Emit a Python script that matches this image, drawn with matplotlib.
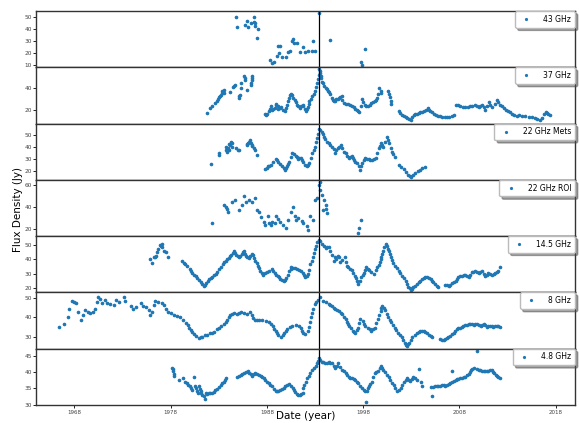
import matplotlib
matplotlib.use('Agg')
import matplotlib.pyplot as plt
import numpy as np

# flux density light curves, (year, Jy) pairs
f43 = [(1984.75, 50.0), (1984.85, 41.4), (1985.7, 43.5), (1985.9, 46.5), (1986.05, 41.8), (1986.35, 45.0),
       (1986.65, 50.2), (1986.7, 46.2), (1986.75, 45.0), (1986.8, 42.4), (1987.1, 40.0), (1986.95, 32.6),
       (1988.35, 14.0), (1988.5, 11.6), (1988.7, 13.0), (1989.0, 17.3), (1989.1, 25.7), (1989.25, 20.0),
       (1989.4, 26.3), (1989.6, 16.8), (1989.95, 16.5), (1990.2, 20.6), (1990.4, 21.6), (1990.6, 29.8),
       (1990.75, 31.6), (1990.85, 28.4), (1991.1, 28.2), (1991.4, 21.3), (1991.75, 25.0), (1992.0, 20.8),
       (1992.25, 21.8), (1992.7, 21.5), (1992.8, 29.8), (1992.95, 21.9), (1993.4, 53.3), (1994.6, 31.1),
       (1997.8, 12.5), (1997.9, 10.4), (1998.2, 23.1)]

f37 = [(1981.8, 17.5), (1982.05, 22.0), (1982.25, 23.6), (1982.6, 26.5), (1982.85, 28.3), (1982.95, 30.5),
       (1983.0, 31.8), (1983.1, 33.0), (1983.2, 34.2), (1983.3, 35.5), (1983.35, 37.3), (1983.5, 36.0),
       (1983.5, 38.0), (1984.2, 36.5), (1984.5, 41.0), (1984.6, 42.0), (1984.7, 43.0), (1985.1, 31.2),
       (1985.15, 33.0), (1985.2, 34.0), (1985.35, 40.5), (1985.3, 44.8), (1985.65, 50.8), (1985.7, 49.0),
       (1985.7, 47.9), (1985.95, 38.7), (1986.3, 43.3), (1986.35, 45.0), (1986.4, 47.9), (1986.4, 49.5),
       (1986.4, 50.9),
       (1987.85, 16.7), (1987.95, 15.8), (1988.0, 17.0), (1988.2, 19.1), (1988.3, 21.0), (1988.4, 23.6),
       (1988.5, 20.6), (1988.65, 21.0), (1988.8, 22.1), (1988.9, 24.5), (1988.95, 26.1), (1989.1, 24.0),
       (1989.2, 21.2), (1989.35, 22.0), (1989.5, 22.7), (1989.7, 20.0), (1989.9, 19.1), (1990.0, 22.5),
       (1990.1, 25.2), (1990.2, 28.5), (1990.3, 31.2), (1990.4, 33.5), (1990.45, 35.1), (1990.55, 34.0),
       (1990.6, 33.6), (1990.75, 31.5), (1990.9, 29.7), (1991.0, 27.5), (1991.1, 25.2), (1991.25, 23.5),
       (1991.4, 22.1), (1991.55, 24.0), (1991.7, 25.2), (1991.8, 23.6), (1991.95, 21.5), (1992.1, 19.7),
       (1992.2, 21.0), (1992.3, 22.7), (1992.35, 25.5), (1992.4, 28.2), (1992.55, 30.5), (1992.7, 32.7),
       (1992.85, 35.0), (1993.0, 37.3), (1993.1, 41.0), (1993.2, 44.8), (1993.3, 48.5), (1993.4, 52.4),
       (1993.45, 57.0), (1993.5, 55.5), (1993.55, 54.0), (1993.6, 51.5), (1993.65, 49.4), (1993.75, 46.0),
       (1993.8, 44.8), (1993.95, 42.0), (1994.1, 40.3), (1994.2, 39.0), (1994.35, 37.9), (1994.45, 36.5),
       (1994.6, 34.8), (1994.75, 31.5), (1994.85, 29.5), (1994.95, 28.2), (1995.05, 28.5), (1995.2, 30.6),
       (1995.35, 30.5), (1995.5, 31.2), (1995.6, 32.0), (1995.75, 32.7), (1995.85, 29.0), (1996.0, 26.7),
       (1996.2, 26.0), (1996.4, 25.5), (1996.67, 25.2), (1996.85, 23.8), (1997.0, 22.7), (1997.2, 21.5),
       (1997.36, 20.6), (1997.5, 19.2), (1997.6, 18.5), (1997.75, 24.0), (1997.88, 30.6), (1998.0, 27.5),
       (1998.16, 25.2), (1998.3, 24.0), (1998.5, 23.6), (1998.7, 25.0), (1998.85, 26.7), (1999.0, 27.5),
       (1999.2, 28.2), (1999.35, 29.5), (1999.44, 31.2), (1999.55, 35.0), (1999.68, 40.3), (1999.8, 37.5),
       (1999.89, 35.8), (2000.58, 37.9), (2000.65, 35.0), (2000.75, 31.8), (2000.85, 28.5), (2000.92, 25.8),
       (2001.69, 19.1), (2001.8, 17.5), (2002.0, 15.5), (2002.2, 14.5), (2002.4, 13.5), (2002.55, 13.0),
       (2002.8, 12.0), (2003.0, 11.5), (2003.1, 13.5), (2003.24, 15.5), (2003.4, 16.2), (2003.59, 16.7),
       (2003.75, 17.8), (2003.93, 18.5), (2004.1, 18.8), (2004.28, 19.1), (2004.5, 20.5), (2004.73, 22.1),
       (2004.85, 20.5), (2004.97, 19.1), (2005.15, 18.0), (2005.32, 16.7), (2005.55, 16.0), (2005.77, 15.2),
       (2006.0, 14.5), (2006.18, 13.6), (2006.45, 13.5), (2006.7, 13.6), (2006.95, 14.2), (2007.2, 14.8),
       (2007.46, 16.0), (2007.67, 25.2), (2007.85, 24.5), (2008.08, 23.6), (2008.35, 23.0), (2008.6, 22.7),
       (2008.85, 23.0), (2009.1, 23.6), (2009.35, 24.0), (2009.57, 24.5), (2009.8, 23.8), (2010.0, 23.0),
       (2010.15, 24.0), (2010.33, 25.2), (2010.5, 23.0), (2010.68, 20.6), (2010.85, 24.0), (2011.02, 27.6),
       (2011.2, 25.0), (2011.37, 22.7), (2011.65, 26.0), (2011.9, 29.7), (2012.05, 27.5), (2012.23, 25.2),
       (2012.4, 23.5), (2012.58, 22.1), (2012.8, 20.5), (2013.03, 19.1), (2013.25, 18.0), (2013.44, 16.7),
       (2013.7, 16.0), (2013.96, 15.2), (2014.2, 15.5), (2014.5, 14.8), (2014.8, 14.5), (2015.2, 14.2),
       (2015.5, 13.5), (2015.8, 13.0), (2016.1, 12.0), (2016.4, 11.3), (2016.6, 13.0), (2016.8, 17.0),
       (2016.95, 18.7), (2017.1, 17.5), (2017.25, 16.5), (2017.4, 15.7)]

f22m = [(1982.2, 26.0), (1983.0, 33.6), (1983.0, 35.5), (1983.7, 40.4), (1983.8, 38.0), (1983.9, 36.3),
        (1984.0, 39.1), (1984.05, 37.5), (1984.1, 42.6), (1984.2, 41.5), (1984.3, 44.5), (1984.35, 43.0),
        (1984.4, 40.4), (1984.74, 39.1), (1985.0, 38.0), (1985.1, 37.2), (1985.9, 42.0), (1985.95, 42.6),
        (1986.0, 43.8), (1986.1, 44.5), (1986.2, 45.5), (1986.3, 43.2), (1986.4, 42.0), (1986.5, 41.0),
        (1986.7, 39.0), (1986.8, 37.7), (1987.0, 33.6),
        (1987.85, 21.9), (1988.0, 22.5), (1988.1, 24.0), (1988.25, 24.5), (1988.4, 25.4), (1988.65, 28.0),
        (1988.9, 30.0), (1989.0, 29.0), (1989.1, 28.1), (1989.35, 26.0), (1989.6, 24.0), (1989.75, 22.5),
        (1989.9, 21.3), (1990.0, 22.5), (1990.1, 24.0), (1990.2, 26.0), (1990.3, 28.1), (1990.45, 32.0),
        (1990.6, 35.5), (1990.8, 34.0), (1991.0, 32.8), (1991.1, 31.5), (1991.2, 30.0), (1991.35, 31.0),
        (1991.5, 30.9), (1991.65, 29.0), (1991.8, 27.3), (1992.0, 25.5), (1992.2, 24.0), (1992.3, 25.0),
        (1992.4, 26.8), (1992.55, 31.0), (1992.7, 35.0), (1992.85, 38.0), (1993.0, 40.4), (1993.1, 44.0),
        (1993.2, 47.3), (1993.3, 50.5), (1993.45, 54.6), (1993.55, 53.8), (1993.7, 52.7), (1993.8, 50.5),
        (1993.9, 48.6), (1994.05, 46.5), (1994.25, 44.5), (1994.4, 43.0), (1994.6, 41.8), (1994.8, 40.0),
        (1994.95, 38.3), (1995.1, 35.0), (1995.2, 37.5), (1995.35, 39.0), (1995.5, 40.4), (1995.7, 41.8),
        (1995.85, 39.0), (1996.0, 36.3), (1996.2, 35.0), (1996.35, 33.0), (1996.5, 30.9), (1996.65, 32.0),
        (1996.8, 32.8), (1996.9, 31.0), (1997.0, 29.5), (1997.2, 28.0), (1997.4, 26.8), (1997.55, 24.0),
        (1997.7, 21.3), (1997.8, 24.0), (1997.9, 26.8), (1998.05, 29.0), (1998.2, 30.9), (1998.4, 30.5),
        (1998.6, 30.0), (1998.75, 29.5), (1998.9, 29.0), (1999.1, 30.0), (1999.3, 30.9), (1999.45, 35.0),
        (1999.6, 39.1), (1999.75, 41.0), (1999.9, 43.2), (2000.0, 42.0), (2000.1, 40.4), (2000.3, 44.0),
        (2000.5, 48.1), (2000.6, 45.9), (2000.7, 43.0), (2000.85, 39.5), (2001.0, 36.3), (2001.15, 34.0),
        (2001.3, 31.7), (2001.7, 25.4), (2001.95, 23.5), (2002.2, 21.9), (2002.45, 19.5), (2002.7, 17.2),
        (2002.85, 16.0), (2003.0, 15.3), (2003.2, 17.0), (2003.4, 18.6), (2003.65, 20.0), (2003.9, 21.3),
        (2004.15, 22.5), (2004.4, 23.5)]

f22r = [(1982.3, 25.0), (1983.5, 42.0), (1983.7, 39.9), (1983.9, 38.0), (1984.0, 35.8), (1984.4, 45.1),
        (1984.7, 46.7), (1985.1, 37.4), (1985.4, 42.0), (1985.6, 49.8), (1985.85, 44.2), (1986.1, 46.7),
        (1986.4, 45.1), (1986.75, 48.2), (1987.0, 37.4), (1987.2, 34.9), (1987.4, 30.6), (1987.7, 26.5),
        (1987.85, 23.4), (1988.1, 31.2), (1988.2, 25.0), (1988.4, 23.4), (1988.55, 26.5), (1988.8, 25.0),
        (1988.95, 31.2), (1989.2, 28.7), (1989.4, 26.5), (1989.7, 23.4), (1990.0, 20.3), (1990.2, 28.1),
        (1990.45, 35.8), (1990.7, 39.9), (1990.9, 31.2), (1991.0, 28.1), (1991.2, 29.6), (1991.6, 27.4),
        (1991.8, 25.0), (1992.2, 21.9), (1992.3, 18.8), (1992.5, 31.2), (1992.8, 28.1), (1993.0, 46.7),
        (1993.2, 48.2), (1993.4, 60.6), (1993.5, 62.8), (1993.55, 56.0), (1993.7, 51.3), (1993.9, 46.7),
        (1994.1, 42.0), (1994.15, 38.0), (1993.8, 36.8), (1994.25, 34.3), (1997.8, 28.1), (1997.6, 20.3),
        (1997.5, 15.7)]

f14 = [(1975.9, 40.3), (1976.1, 37.3), (1976.25, 41.4), (1976.4, 42.0), (1976.5, 42.6), (1976.6, 45.0),
       (1976.7, 47.2), (1976.85, 50.0), (1976.95, 49.5), (1977.05, 50.7), (1977.13, 48.4), (1977.3, 45.6),
       (1977.48, 44.9), (1977.75, 41.9),
       (1979.2, 39.1), (1979.35, 37.8), (1979.48, 36.8), (1979.7, 35.6), (1979.97, 33.3), (1980.1, 31.8),
       (1980.24, 30.3), (1980.45, 29.5), (1980.6, 28.7), (1980.75, 27.2), (1980.9, 25.7), (1981.1, 24.3),
       (1981.3, 22.9), (1981.45, 21.8), (1981.55, 22.5), (1981.7, 23.4), (1981.85, 25.0), (1982.0, 26.4),
       (1982.15, 27.3), (1982.3, 28.0), (1982.5, 29.0), (1982.7, 29.9), (1982.85, 31.5), (1983.0, 33.3),
       (1983.2, 35.0), (1983.4, 36.8), (1983.55, 38.0), (1983.7, 39.1), (1983.9, 40.0), (1984.05, 41.0),
       (1984.2, 42.2), (1984.3, 43.3), (1984.45, 44.5), (1984.6, 45.6), (1984.7, 44.5), (1984.8, 43.3),
       (1984.95, 42.3), (1985.1, 41.4), (1985.25, 42.5), (1985.4, 43.7), (1985.5, 44.8), (1985.6, 45.6),
       (1985.7, 44.0), (1985.8, 42.6), (1985.95, 41.8), (1986.1, 41.0), (1986.25, 42.5), (1986.4, 43.7),
       (1986.6, 43.3), (1986.7, 41.2), (1986.8, 39.1), (1986.95, 37.3), (1987.1, 35.6), (1987.2, 34.0),
       (1987.3, 32.2), (1987.45, 30.8), (1987.6, 29.4), (1987.85, 30.3), (1988.0, 31.2), (1988.2, 32.2),
       (1988.5, 33.3), (1988.65, 31.8), (1988.8, 30.3), (1988.95, 29.5), (1989.1, 28.7), (1989.25, 27.5),
       (1989.4, 26.4), (1989.6, 25.8), (1989.75, 25.2), (1989.9, 26.0), (1990.0, 27.1), (1990.15, 29.5),
       (1990.3, 32.2), (1990.45, 33.5), (1990.55, 34.5), (1990.75, 34.2), (1990.9, 34.0), (1991.1, 33.3),
       (1991.3, 32.5), (1991.5, 31.7), (1991.7, 30.3), (1991.85, 29.0), (1992.0, 27.5), (1992.15, 28.5),
       (1992.3, 29.9), (1992.4, 33.0), (1992.5, 36.8), (1992.65, 39.0), (1992.8, 41.4), (1992.9, 44.2),
       (1993.0, 47.2), (1993.1, 49.5), (1993.2, 51.9), (1993.4, 53.5), (1993.55, 53.0), (1993.7, 50.7),
       (1993.9, 49.2), (1994.1, 47.9), (1994.25, 48.6), (1994.4, 48.4), (1994.6, 45.8), (1994.8, 43.3),
       (1994.95, 39.1), (1995.05, 41.5), (1995.2, 40.3), (1995.35, 42.5), (1995.5, 41.9), (1995.6, 38.0),
       (1995.8, 39.6), (1996.1, 41.4), (1996.2, 38.0), (1996.3, 35.6), (1996.45, 34.5), (1996.6, 33.3),
       (1996.85, 32.6), (1996.95, 30.5), (1997.1, 28.7), (1997.25, 27.0), (1997.4, 25.2), (1997.5, 22.9),
       (1997.65, 25.0), (1997.8, 27.5), (1997.95, 29.0), (1998.05, 30.3), (1998.2, 32.5), (1998.3, 34.5),
       (1998.45, 33.5), (1998.6, 32.6), (1998.85, 31.0), (1999.1, 29.9), (1999.3, 32.6), (1999.45, 34.5),
       (1999.6, 36.3), (1999.7, 38.5), (1999.8, 40.3), (1999.9, 42.0), (2000.0, 43.7), (2000.1, 46.0),
       (2000.2, 48.4), (2000.4, 50.7), (2000.5, 49.0), (2000.6, 47.2), (2000.7, 45.5), (2000.8, 43.7),
       (2000.9, 41.5), (2001.0, 39.6), (2001.15, 37.5), (2001.3, 35.6), (2001.5, 34.0), (2001.7, 32.2),
       (2001.85, 30.5), (2002.0, 28.7), (2002.2, 27.0), (2002.4, 25.2), (2002.55, 23.0), (2002.7, 21.1),
       (2002.85, 20.0), (2003.0, 18.7), (2003.1, 19.5), (2003.2, 20.6), (2003.4, 21.8), (2003.6, 22.9),
       (2003.75, 24.0), (2003.9, 25.2), (2004.1, 26.2), (2004.3, 27.1), (2004.45, 27.6), (2004.6, 28.0),
       (2004.8, 27.2), (2005.0, 26.4), (2005.15, 25.2), (2005.3, 24.1), (2005.5, 23.0), (2005.7, 21.8),
       (2005.8, 21.1),
       (2006.5, 22.5), (2006.7, 22.0), (2006.9, 21.8), (2007.05, 22.5), (2007.2, 23.4), (2007.4, 24.3),
       (2007.6, 25.2), (2007.75, 26.3), (2007.9, 27.5), (2008.1, 28.2), (2008.25, 28.7), (2008.45, 29.0),
       (2008.6, 29.4), (2008.8, 28.7), (2008.95, 28.0), (2009.1, 29.5), (2009.3, 31.0), (2009.45, 31.5),
       (2009.6, 32.2), (2009.8, 31.2), (2010.0, 30.3), (2010.15, 31.0), (2010.3, 31.7), (2010.5, 30.0),
       (2010.7, 28.7), (2010.85, 29.5), (2011.0, 30.3), (2011.2, 29.8), (2011.4, 29.4), (2011.55, 29.8),
       (2011.7, 30.3), (2011.9, 31.2), (2012.05, 32.2), (2012.2, 34.5)]

f8 = [(1966.4, 35.1), (1966.9, 36.8), (1967.3, 40.4), (1967.45, 44.7), (1967.7, 48.8), (1968.0, 48.2),
      (1968.2, 47.4), (1968.4, 43.0), (1968.7, 38.6), (1968.9, 41.2), (1969.1, 43.9), (1969.4, 43.0),
      (1969.6, 42.1), (1969.9, 43.0), (1970.15, 44.7), (1970.3, 48.2), (1970.5, 50.9), (1970.7, 49.5),
      (1970.9, 47.4), (1971.2, 49.1), (1971.4, 47.7), (1971.7, 47.0), (1972.1, 46.5), (1972.3, 49.1),
      (1972.6, 47.9), (1973.2, 50.5), (1973.3, 48.8), (1973.85, 46.0), (1974.1, 44.7), (1974.4, 45.6),
      (1974.9, 47.4), (1975.1, 46.0), (1975.4, 45.6), (1975.7, 43.9), (1975.9, 41.2), (1976.1, 43.0),
      (1976.3, 46.5), (1976.4, 48.6), (1976.7, 48.2), (1977.1, 47.4), (1977.3, 46.5), (1977.5, 44.5),
      (1977.7, 43.0), (1978.0, 42.5), (1978.3, 41.2), (1978.7, 40.7), (1979.0, 40.0), (1979.3, 38.9),
      (1979.55, 37.2), (1979.75, 36.0), (1979.9, 34.7), (1980.1, 33.5), (1980.25, 32.5), (1980.45, 31.3),
      (1980.6, 30.2), (1980.9, 29.0), (1981.1, 29.5), (1981.3, 29.8), (1981.6, 30.7), (1981.8, 31.0),
      (1982.05, 31.6), (1982.3, 32.0), (1982.5, 32.5), (1982.8, 33.7), (1983.0, 34.5), (1983.2, 35.4),
      (1983.5, 36.8), (1983.7, 37.8), (1983.9, 38.9), (1984.05, 40.0), (1984.2, 41.2), (1984.4, 42.0),
      (1984.6, 42.5), (1984.9, 41.8), (1985.1, 42.5), (1985.3, 43.0), (1985.6, 42.1), (1985.95, 41.8),
      (1986.2, 43.0), (1986.4, 41.2), (1986.6, 39.8), (1986.8, 38.6), (1987.0, 38.6), (1987.2, 38.6),
      (1987.5, 38.6), (1987.9, 38.2), (1988.2, 37.7), (1988.4, 36.5), (1988.6, 35.4), (1988.75, 34.2),
      (1988.9, 33.0), (1989.05, 31.8), (1989.2, 30.7), (1989.5, 29.8), (1989.65, 30.8), (1989.8, 31.9),
      (1989.95, 33.0), (1990.1, 34.2), (1990.35, 34.8), (1990.6, 35.4), (1991.0, 36.0), (1991.3, 35.6),
      (1991.5, 34.3), (1991.65, 33.0), (1991.8, 32.0), (1992.0, 31.2), (1992.3, 33.0), (1992.4, 35.0),
      (1992.5, 37.4), (1992.6, 40.0), (1992.7, 42.5), (1992.8, 44.4), (1993.0, 47.0), (1993.15, 48.0),
      (1993.3, 49.1), (1993.55, 50.5), (1993.8, 48.8), (1994.1, 47.9), (1994.4, 47.0), (1994.6, 46.5),
      (1994.8, 46.1), (1994.95, 45.2), (1995.1, 44.4), (1995.3, 43.8), (1995.5, 43.2), (1995.65, 42.5),
      (1995.8, 41.8), (1996.0, 40.5), (1996.2, 39.1), (1996.3, 37.8), (1996.4, 36.5), (1996.55, 35.6),
      (1996.7, 34.7), (1996.9, 33.0), (1997.05, 32.5), (1997.2, 32.1), (1997.35, 33.3), (1997.5, 34.7),
      (1997.6, 37.0), (1997.7, 39.1), (1997.95, 38.2), (1998.1, 36.8), (1998.2, 35.6), (1998.5, 34.4),
      (1998.7, 33.7), (1998.85, 33.0), (1999.05, 33.8), (1999.2, 34.7), (1999.35, 37.0), (1999.5, 39.1),
      (1999.65, 41.5), (1999.8, 43.5), (1999.9, 45.0), (2000.0, 46.1), (2000.15, 45.0), (2000.3, 43.9),
      (2000.45, 42.0), (2000.6, 40.0), (2000.75, 38.6), (2000.9, 37.4), (2001.1, 36.0), (2001.3, 34.7),
      (2001.45, 33.4), (2001.6, 32.1), (2001.8, 30.8), (2002.0, 29.5), (2002.15, 28.2), (2002.3, 26.8),
      (2002.45, 25.8), (2002.55, 25.1), (2002.7, 26.0), (2002.8, 26.8), (2002.95, 28.2), (2003.1, 29.5),
      (2003.35, 30.6), (2003.6, 31.6), (2003.75, 32.3), (2003.9, 33.0), (2004.1, 33.0), (2004.3, 33.0),
      (2004.45, 32.3), (2004.6, 31.6), (2004.8, 31.0), (2005.0, 30.4), (2005.1, 29.5),
      (2006.0, 28.6), (2006.2, 28.4), (2006.4, 28.1), (2006.55, 28.6), (2006.7, 29.1), (2006.85, 29.8),
      (2007.0, 30.4), (2007.2, 31.2), (2007.4, 32.1), (2007.55, 33.0), (2007.7, 33.9), (2007.9, 34.3),
      (2008.1, 34.7), (2008.25, 35.2), (2008.4, 35.6), (2008.6, 35.9), (2008.8, 36.1), (2008.95, 36.5),
      (2009.1, 36.8), (2009.3, 36.5), (2009.5, 36.1), (2009.65, 36.5), (2009.8, 36.8), (2010.0, 36.2),
      (2010.2, 35.6), (2010.35, 36.0), (2010.5, 36.5), (2010.7, 35.8), (2010.85, 35.1), (2011.0, 35.4),
      (2011.2, 35.6), (2011.35, 35.3), (2011.5, 35.1), (2011.7, 35.4), (2011.9, 35.6), (2012.05, 35.3),
      (2012.2, 35.1)]

f5 = [(1978.17, 41.4), (1978.2, 40.8), (1978.24, 40.2), (1978.3, 39.5), (1978.34, 38.9), (1978.86, 37.6),
      (1979.3, 38.1), (1979.5, 37.1), (1979.7, 36.6), (1979.85, 36.1), (1979.97, 35.6), (1980.1, 35.1),
      (1980.2, 34.6), (1980.4, 38.6), (1980.5, 35.8), (1980.6, 35.1), (1980.7, 34.3), (1980.8, 33.6),
      (1980.9, 35.6), (1981.0, 34.8), (1981.1, 34.1), (1981.2, 33.6), (1981.3, 33.1), (1981.45, 32.6),
      (1981.6, 31.9), (1981.7, 33.6), (1981.8, 33.3), (1981.95, 33.5), (1982.1, 33.6), (1982.3, 33.7),
      (1982.5, 33.9), (1982.65, 34.4), (1982.8, 34.9), (1983.0, 35.5), (1983.2, 36.1), (1983.35, 36.6),
      (1983.5, 37.1), (1983.65, 37.6), (1983.8, 38.1),
      (1984.9, 38.6), (1985.1, 38.9), (1985.3, 39.1), (1985.45, 39.3), (1985.6, 39.6), (1985.8, 39.9),
      (1986.0, 40.2), (1986.15, 39.8), (1986.3, 39.3), (1986.5, 38.9), (1986.65, 39.3), (1986.8, 39.6),
      (1987.0, 39.4), (1987.2, 39.1), (1987.35, 38.9), (1987.5, 38.6), (1987.7, 38.1), (1987.85, 37.6),
      (1988.0, 37.1), (1988.2, 36.6), (1988.35, 36.1), (1988.5, 35.6), (1988.7, 34.8), (1988.9, 34.1),
      (1989.05, 34.1), (1989.2, 34.1), (1989.4, 34.5), (1989.6, 34.9), (1989.75, 35.2), (1989.9, 35.6),
      (1990.1, 36.0), (1990.3, 36.3), (1990.55, 35.6), (1990.7, 35.1), (1990.8, 34.6), (1990.95, 34.0),
      (1991.1, 33.3), (1991.25, 33.1), (1991.4, 32.9), (1991.55, 33.2), (1991.7, 33.6), (1991.8, 35.0),
      (1991.9, 36.1), (1992.05, 37.1), (1992.2, 38.1), (1992.35, 38.9), (1992.5, 39.6), (1992.7, 40.5),
      (1992.9, 41.4), (1993.05, 42.0), (1993.2, 42.7), (1993.3, 43.5), (1993.4, 44.4), (1993.55, 43.8),
      (1993.7, 43.2), (1993.85, 43.0), (1994.0, 42.7), (1994.2, 42.8), (1994.4, 43.0), (1994.6, 42.8),
      (1994.8, 42.7), (1994.95, 42.0), (1995.1, 41.4), (1995.25, 42.0), (1995.4, 42.7), (1995.6, 41.7),
      (1995.8, 40.7), (1996.0, 40.2), (1996.2, 39.6), (1996.35, 39.1), (1996.5, 38.6), (1996.65, 38.3),
      (1996.8, 38.1), (1997.0, 37.8), (1997.2, 37.6), (1997.35, 37.1), (1997.5, 36.6), (1997.7, 35.8),
      (1997.9, 35.1), (1998.05, 34.6), (1998.2, 34.1), (1998.3, 30.9), (1998.4, 34.3), (1998.5, 35.0),
      (1998.6, 35.6), (1998.75, 36.4), (1998.9, 37.1), (1999.05, 38.4), (1999.2, 39.6), (1999.35, 40.0),
      (1999.5, 40.4), (1999.7, 41.2), (1999.9, 42.0), (2000.0, 41.3), (2000.1, 40.7), (2000.3, 39.9),
      (2000.5, 39.1), (2000.65, 38.4), (2000.8, 37.6), (2001.0, 36.8), (2001.2, 36.1), (2001.35, 35.1),
      (2001.5, 34.1), (2001.7, 34.6), (2001.9, 35.1), (2002.05, 36.1), (2002.2, 37.1), (2002.4, 37.6),
      (2002.6, 38.1), (2002.75, 37.7), (2002.9, 37.3), (2003.05, 37.9), (2003.2, 38.6), (2003.4, 38.1),
      (2003.6, 37.6), (2003.8, 41.0), (2004.0, 37.1), (2004.1, 35.6),
      (2005.0, 35.3), (2005.1, 32.6), (2005.3, 35.5), (2005.5, 35.6), (2005.65, 35.6), (2005.8, 35.6),
      (2006.0, 35.8), (2006.2, 36.1), (2006.35, 36.0), (2006.5, 35.9), (2006.7, 36.1), (2006.9, 36.3),
      (2007.05, 36.7), (2007.2, 37.1), (2007.2, 40.2), (2007.4, 37.3), (2007.6, 37.6), (2007.75, 37.8),
      (2007.9, 37.9), (2008.1, 38.1), (2008.25, 38.3), (2008.45, 38.5), (2008.6, 38.6), (2008.8, 39.0),
      (2009.0, 39.3), (2009.1, 40.0), (2009.2, 40.7), (2009.35, 41.0), (2009.5, 41.2), (2009.8, 46.4),
      (2009.85, 41.0), (2010.0, 40.7), (2010.15, 40.5), (2010.3, 40.4), (2010.5, 40.4), (2010.7, 40.4),
      (2010.85, 40.3), (2011.0, 40.2), (2011.2, 40.5), (2011.4, 40.7), (2011.5, 40.1), (2011.6, 39.6),
      (2011.75, 39.2), (2011.9, 38.9), (2012.05, 38.5), (2012.2, 38.1)]

labels = ['43 GHz', '37 GHz', '22 GHz Mets', '22 GHz ROI', '14.5 GHz', '8 GHz', '4.8 GHz']
series = [f43, f37, f22m, f22r, f14, f8, f5]
ylims = [(8.3, 55), (8, 59), (13, 59.5), (13, 65.3), (17.2, 56.2), (23.7, 53.2), (30, 47.2)]
yticks = [[10, 20, 30, 40, 50], [20, 40], [20, 30, 40, 50], [20, 40, 60],
          [20, 30, 40, 50], [30, 40, 50], [30, 35, 40, 45]]
xtick_years = [1968, 1978, 1988, 1998, 2008, 2018]
flare_year = 1993.4

fig, axes = plt.subplots(7, 1, sharex=True, figsize=(5.79, 4.23), dpi=100)
fig.subplots_adjust(left=0.062, right=0.993, bottom=0.043, top=0.974, hspace=0)

for ax, data, lab, yl, yt in zip(axes, series, labels, ylims, yticks):
    d = np.array(data)
    ax.plot(d[:, 0], d[:, 1], '.', ms=3.2, color='#1f77b4', label=lab)
    ax.axvline(flare_year, color='k', lw=0.9)
    ax.set_ylim(*yl)
    ax.set_yticks(yt)
    ax.tick_params(axis='y', labelsize=4.2, length=2, width=0.6, pad=1, labelcolor='#444444')
    ax.tick_params(axis='x', length=2, width=0.6, labelsize=4, pad=1.5, labelcolor='#444444')
    for sp in ax.spines.values():
        sp.set_color('#333333')
        sp.set_linewidth(1.0)
    ax.legend(loc='upper right', fontsize=5.5, borderaxespad=0, shadow=True, framealpha=1,
              handletextpad=1.2, borderpad=0.5, edgecolor='#bbbbbb', markerscale=0.8)

axes[-1].set_xlim(1964, 2020)
axes[-1].set_xticks(xtick_years)
axes[-1].set_xticklabels([str(y) for y in xtick_years])
fig.text(0.528, 0.016, 'Date (year)', fontsize=7.5, va='center', ha='center')
fig.text(0.031, 0.505, 'Flux Density (Jy)', rotation=90, fontsize=7.5, va='center', ha='center')

fig.savefig('out.png', dpi=100)
